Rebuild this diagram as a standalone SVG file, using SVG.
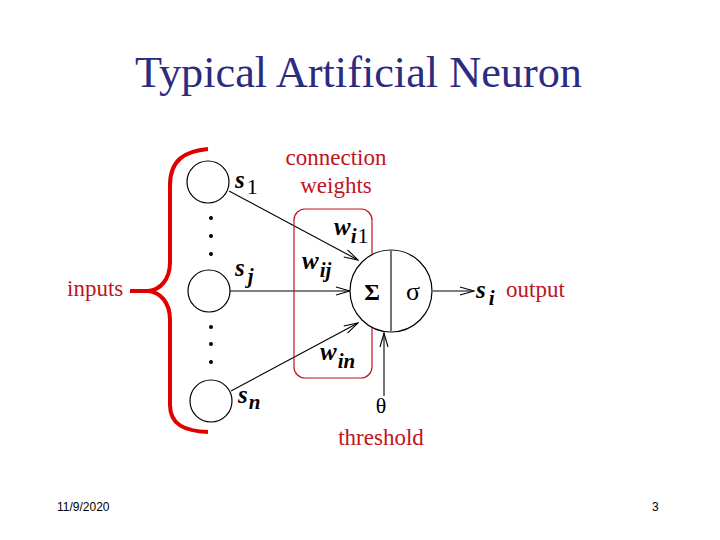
<svg xmlns="http://www.w3.org/2000/svg" width="720" height="540" viewBox="0 0 720 540">
<style>
.t{font-family:"Liberation Serif","Times New Roman",serif}
.red{font-family:"Liberation Serif","Times New Roman",serif;fill:#c0141c;font-size:23px}
.var{font-family:"Liberation Serif","Times New Roman",serif;font-weight:bold;font-style:italic;font-size:25px;fill:#000}
.sub{font-weight:normal;font-style:normal;font-size:22px}
.subi{font-style:italic;font-weight:bold;font-size:21px}
.node{fill:#fff;stroke:#000;stroke-width:1.2}
.ln{stroke:#000;stroke-width:1.1;fill:none}
.foot{font-family:"Liberation Sans Narrow","Liberation Sans",sans-serif;font-size:12px;fill:#000}
</style>
<defs>
<marker id="ah" markerWidth="16" markerHeight="10" refX="15" refY="5" orient="auto" markerUnits="userSpaceOnUse">
<path d="M1,1 L15,5 L1,9" fill="none" stroke="#000" stroke-width="1.1"/>
</marker>
</defs>
<rect width="720" height="540" fill="#fff"/>
<text class="t" x="135" y="87" font-size="44" fill="#2b2b80" textLength="447" lengthAdjust="spacingAndGlyphs">Typical Artificial Neuron</text>

<g id="connectors">
<line class="ln" x1="229" y1="191" x2="358" y2="260" marker-end="url(#ah)"/>
<line class="ln" x1="230" y1="291" x2="350" y2="291" marker-end="url(#ah)"/>
<line class="ln" x1="231" y1="391" x2="358" y2="323" marker-end="url(#ah)"/>
<line class="ln" x1="433" y1="291" x2="474" y2="291" marker-end="url(#ah)"/>
<line class="ln" x1="384" y1="396" x2="384" y2="333" marker-end="url(#ah)"/>
</g>

<g id="brace">
<path d="M208,149 C185,151 170,160 170,185 L170,262 C170,280 160,290 148,291 L130,291" fill="none" stroke="#e00000" stroke-width="4"/>
<path d="M148,291 C160,292 170,302 170,320 L170,405 C170,425 185,431 208,432" fill="none" stroke="#e00000" stroke-width="4"/>
</g>

<g id="weights-box">
<rect x="294" y="209" width="78" height="169" rx="11" fill="none" stroke="#c0141c" stroke-width="1.2"/>
</g>

<g id="s1">
<circle class="node" cx="208" cy="182" r="21"/>
<text class="var" x="235" y="188">s<tspan class="sub" dx="2" dy="6">1</tspan></text>
</g>
<g id="dots-top">
<circle cx="211" cy="218" r="2" fill="#000"/>
<circle cx="211" cy="236" r="2" fill="#000"/>
<circle cx="211" cy="254" r="2" fill="#000"/>
</g>
<g id="sj">
<circle class="node" cx="209" cy="291" r="21"/>
<text class="var" x="235" y="276">s<tspan class="subi" dx="3" dy="7">j</tspan></text>
</g>
<g id="dots-bottom">
<circle cx="211" cy="327" r="2" fill="#000"/>
<circle cx="211" cy="344" r="2" fill="#000"/>
<circle cx="211" cy="362" r="2" fill="#000"/>
</g>
<g id="sn">
<circle class="node" cx="211" cy="401" r="21"/>
<text class="var" x="238" y="403">s<tspan class="subi" dx="1" dy="6">n</tspan></text>
</g>

<g id="neuron">
<circle class="node" cx="391" cy="291" r="41"/>
<line class="ln" x1="391" y1="251" x2="391" y2="331"/>
<text class="t" x="372" y="300" text-anchor="middle" font-size="24" font-weight="bold">Σ</text>
<text class="t" x="413" y="300" text-anchor="middle" font-size="26">σ</text>
</g>

<g id="labels">
<text class="var" x="334" y="235">w<tspan class="subi" dx="0" dy="8">i</tspan><tspan class="sub" dx="1" dy="0">1</tspan></text>
<text class="var" x="302" y="269">w<tspan class="subi" dx="1" dy="8">ij</tspan></text>
<text class="var" x="320" y="360">w<tspan class="subi" dx="1" dy="8">in</tspan></text>
<text class="var" x="476" y="298">s<tspan class="subi" dx="3" dy="7">i</tspan></text>
<text class="t" x="381" y="413" text-anchor="middle" font-size="22">θ</text>
<text class="red" x="336" y="165" text-anchor="middle">connection</text>
<text class="red" x="336" y="193" text-anchor="middle">weights</text>
<text class="red" x="67" y="296">inputs</text>
<text class="red" x="506" y="297">output</text>
<text class="red" x="381" y="445" text-anchor="middle">threshold</text>
</g>

<text class="foot" x="57" y="511">11/9/2020</text>
<text class="foot" x="652" y="511">3</text>
</svg>
